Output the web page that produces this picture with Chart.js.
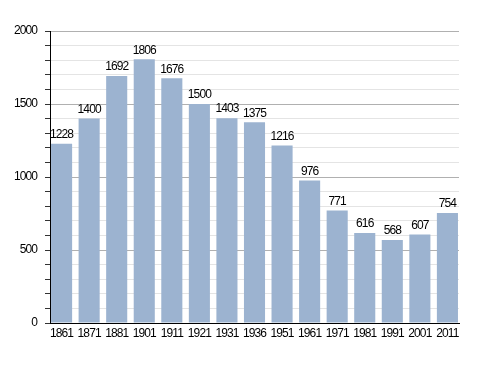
<!DOCTYPE html>
<html>
<head>
<meta charset="utf-8">
<script src="https://cdn.jsdelivr.net/npm/chart.js@4"></script>
<style>
  html, body { margin: 0; padding: 0; background: #fff; }
  #wrap { width: 488px; height: 373px; }
</style>
</head>
<body>
<div id="wrap"><canvas id="grafico"></canvas></div>
<script>
const anos = ['1861', '1871', '1881', '1901', '1911', '1921', '1931', '1936', '1951', '1961', '1971', '1981', '1991', '2001', '2011'];
const habitantes = [1228, 1400, 1692, 1806, 1676, 1500, 1403, 1375, 1216, 976, 771, 616, 568, 607, 754];
const ticksY = [0, 500, 1000, 1500, 2000];

const fonte = '"Liberation Sans", Arial, sans-serif';

// texto um pouco mais apertado, como no original
const espacamento = {
    id: 'espacamento',
    beforeLayout(chart) { chart.ctx.letterSpacing = '-0.9px'; },
    beforeDraw(chart) { chart.ctx.letterSpacing = '-0.9px'; }
};

const rotulos = {
    id: 'rotulos',
    afterDatasetsDraw(chart) {
        const ctx = chart.ctx;
        const meta = chart.getDatasetMeta(0);
        ctx.save();
        ctx.font = '12px ' + fonte;
        ctx.fillStyle = '#000';
        ctx.textAlign = 'center';
        ctx.textBaseline = 'bottom';
        meta.data.forEach((bar, i) => {
            ctx.fillText(habitantes[i], bar.x, bar.y - 3);
        });
        ctx.restore();
    }
};

const ctx = document.getElementById('grafico').getContext('2d');
new Chart(ctx, {
    type: 'bar',
    data: {
        datasets: [{
            data: habitantes.map((v, i) => ({ x: i, y: v })),
            backgroundColor: 'rgb(156, 179, 208)',
            borderWidth: 0,
            barPercentage: 0.765,
            categoryPercentage: 1
        }]
    },
    options: {
        responsive: true,
        maintainAspectRatio: false,
        animation: false,
        layout: { padding: { left: 0, right: 29, top: 31, bottom: 0 } },
        plugins: {
            legend: { display: false },
            tooltip: { enabled: false }
        },
        scales: {
            x: {
                type: 'linear',
                min: -0.42,
                max: 14.42,
                offset: false,
                grid: { display: false, drawTicks: false },
                border: { color: '#000', width: 1 },
                ticks: {
                    stepSize: 1,
                    includeBounds: false,
                    autoSkip: false,
                    maxRotation: 0,
                    color: '#000',
                    font: { family: fonte, size: 12 },
                    padding: 3,
                    callback: v => (Number.isInteger(v) && anos[v] ? anos[v] : '')
                },
                afterFit(scale) { scale.height = 50; }
            },
            y: {
                min: 0,
                max: 2000,
                border: { color: '#000', width: 1 },
                grid: {
                    color: c => (c.tick.value % 500 === 0 ? '#b0b0b0' : '#e4e4e4'),
                    tickColor: '#333',
                    tickLength: 5
                },
                ticks: {
                    stepSize: 100,
                    autoSkip: false,
                    color: '#000',
                    font: { family: fonte, size: 12 },
                    padding: 8,
                    callback: v => (ticksY.includes(v) ? v : '')
                },
                afterFit(scale) { scale.width = 50; }
            }
        }
    },
    plugins: [espacamento, rotulos]
});
</script>
</body>
</html>
